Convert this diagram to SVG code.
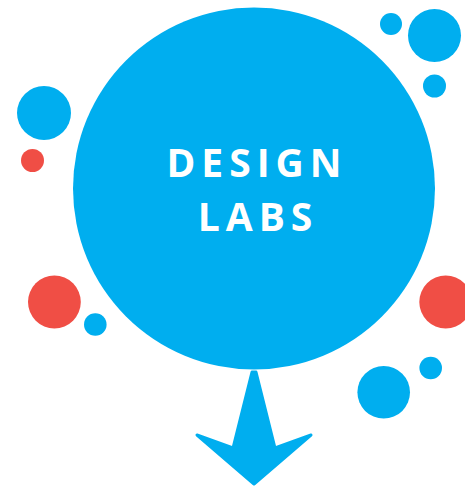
<svg xmlns="http://www.w3.org/2000/svg" width="465" height="489" viewBox="0 0 465 489">
<style>
.b{fill:#00AEEF}
.r{fill:#F04E45}
.t{fill:#fff;font-family:"Open Sans","Noto Sans",sans-serif;font-weight:bold;font-size:39px;letter-spacing:6px;text-anchor:middle}
</style>
<rect width="465" height="489" fill="#fff"/>
<g id="dots">
<circle class="b" cx="391" cy="24" r="11"/>
<circle class="b" cx="434.5" cy="35.5" r="26.5"/>
<circle class="b" cx="434.5" cy="86" r="11.5"/>
<circle class="b" cx="44" cy="113" r="27"/>
<circle class="r" cx="32.5" cy="160.5" r="11.5"/>
<circle class="r" cx="54.4" cy="302" r="26.4"/>
<circle class="b" cx="95.3" cy="324.5" r="11.3"/>
<circle class="r" cx="445.7" cy="302" r="26.4"/>
<circle class="b" cx="430.7" cy="368" r="11.3"/>
<circle class="b" cx="383.7" cy="392.3" r="26.3"/>
</g>
<g id="main">
<circle class="b" cx="254" cy="188.5" r="181"/>
<text class="t" x="257" y="176.7">DESIGN</text>
<text class="t" x="258" y="230.7">LABS</text>
</g>
<g id="connectors">
<path class="b" stroke="#00AEEF" stroke-width="3" stroke-linejoin="round" d="M252 372 L256 372 L275 448 L311 435 L254 484 L197 435 L233 448 Z"/>
</g>
</svg>
